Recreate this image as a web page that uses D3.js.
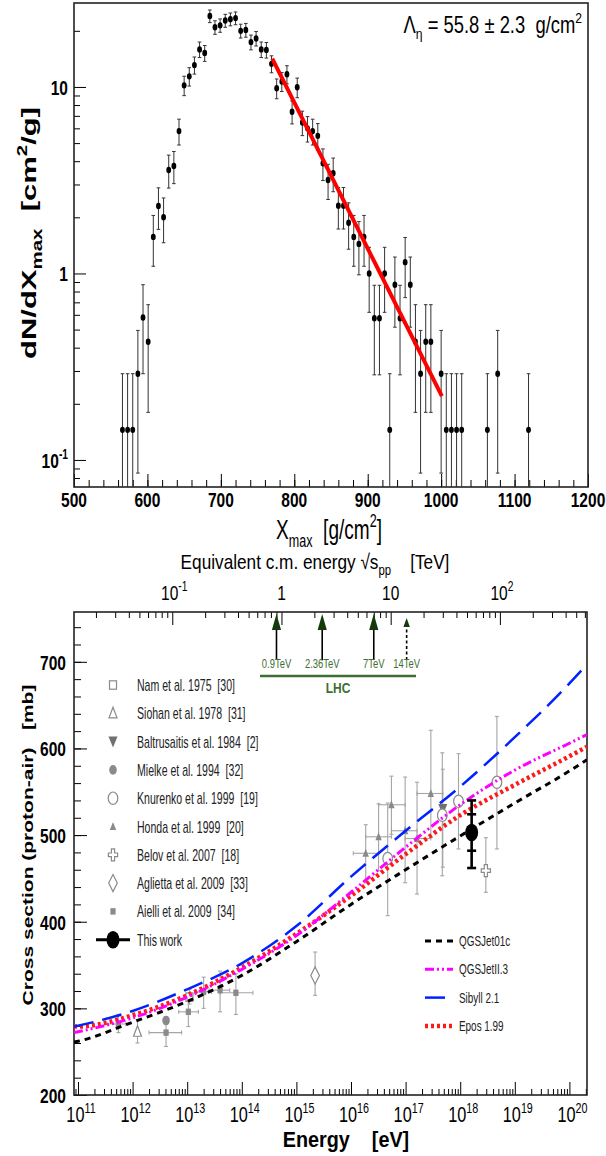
<!DOCTYPE html>
<html><head><meta charset="utf-8">
<script src="https://cdn.jsdelivr.net/npm/d3@7"></script>
<style>body{margin:0;background:#fff} svg{display:block} text{font-family:"Liberation Sans",Arial,Helvetica,sans-serif;white-space:pre}</style>
</head><body><svg id="c" width="606" height="1156"></svg>
<script>
// ================= DATA =================
// --- top panel: Xmax distribution
const xmaxBins=[566,573,580,587,594,601,608,615,622,629,636,643,650,657,664,671,678,685,692,699,706,713,720,727,734,741,748,755,762,769,776,783,790,797,804,811,818,825,832,839,846,853,860,867,874,881,888,895,902,909,916,923,930,937,944,951,958,965,972,979,986,1000,1007,1014,1021,1028,1063,1077,1119];
const dNdXmax=[0.145,0.145,0.145,0.29,0.58,0.43,1.57,2.30,2.0,3.59,3.77,5.8,10.2,11.4,13.1,15.9,15.2,24.0,20.9,21.4,22.7,23.1,23.4,20.0,20.2,17.4,18.2,15.9,15.8,13.3,9.84,10.7,11.7,7.37,9.96,6.45,6.0,5.8,5.47,3.90,3.17,3.45,2.31,2.31,1.87,1.57,1.44,1.57,1.0,0.575,0.575,1.0,0.145,0.87,0.575,1.15,0.87,0.43,0.29,0.43,0.43,0.29,0.145,0.145,0.145,0.145,0.145,0.29,0.145];
const dNdXerr=[0.145,0.145,0.145,0.205,0.29,0.25,0.477,0.577,0.539,0.721,0.739,0.917,1.216,1.286,1.378,1.518,1.485,1.865,1.741,1.762,1.814,1.830,1.842,1.703,1.711,1.588,1.624,1.518,1.514,1.389,1.194,1.246,1.302,1.034,1.202,0.967,0.933,0.917,0.891,0.752,0.678,0.707,0.579,0.579,0.521,0.477,0.457,0.477,0.381,0.289,0.289,0.381,0.145,0.355,0.289,0.408,0.355,0.25,0.205,0.25,0.25,0.205,0.145,0.145,0.145,0.145,0.145,0.205,0.145];
const fitXmax=[770,1001];
const fitDN=[14.2,0.22];
const xmaxTicks=[500,600,700,800,900,1000,1100,1200];
const dnTicks=[0.1,1,10];

// --- bottom panel: p-air cross section
const energyTicks=[1e11,1e12,1e13,1e14,1e15,1e16,1e17,1e18,1e19,1e20];
const energyExp=["11","12","13","14","15","16","17","18","19","20"];
const sigmaTicks=[200,300,400,500,600,700];
const sqrtsTicks=[0.1,1,10,100];
const lhcTeV=[0.9,2.36,7,14];
const lhcLabels=["0.9TeV","2.36TeV","7TeV","14TeV"];

const modelE=[8.45e10,1e11,1e12,1e13,1e14,1e15,1e16,1e17,1e18,1e19,1e20,2.1e20];
const qgsjet01c=[261,262,284,308,338,377,420,460,499,537,574,587];
const qgsjetII3=[272,273,289,313,345,384,434,486,535,575,606,616];
const sibyll21=[279,280,297,322,352,395,452,505,556,613,675,697];
const epos199=[279,279,292,315,347,386,430,478,523,558,591,602];

// experiments: E [eV], sigma, lower, upper, (E lo, E hi)
const siohanE=[1.23e12], siohanS=[273], siohanLo=[260], siohanHi=[287];
const mielkeE=[4.1e12], mielkeS=[286], mielkeLo=[282], mielkeHi=[290];
const aielliE=[5.5e11,4.1e12,1.05e13,2.0e13,4.0e13,7.8e13];
const aielliS=[282,272,296,319,321,318];
const aielliLo=[272,256,279,300,296,293];
const aielliHi=[293,284,309,336,343,340];
const aielliElo=[3.5e11,2.0e12,7.0e12,1.4e13,2.5e13,4.0e13];
const aielliEhi=[7.5e11,7.9e12,1.6e13,2.8e13,6.0e13,1.6e14];
const namE=[1.1e13], namS=[313], namLo=[305], namHi=[322];
const agliettaE=[2.2e15], agliettaS=[338], agliettaLo=[315], agliettaHi=[365];
const hondaE=[1.86e16,3.2e16,5.5e16,9.8e16,1.62e17,2.9e17];
const hondaS=[479,498,535,505,496,548];
const hondaLo=[445,459,501,445,432,497];
const hondaHi=[512,536,568,567,561,621];
const hondaElo=[1.1e16,1.86e16,3.2e16,5.5e16,9.8e16,1.62e17];
const hondaEhi=[3.2e16,5.5e16,9.8e16,1.62e17,2.9e17,4.8e17];
const baltE=[4.8e17], baltS=[530], baltLo=[463], baltHi=[576];
const knurE=[4.7e16,4.7e17,9.3e17,4.7e18];
const knurS=[473,523,539,561];
const knurLo=[407,453,484,484];
const knurHi=[537,595,594,637];
const belovE=[2.95e18], belovS=[459], belovLo=[434], belovHi=[497];
const thisE=[1.62e18], thisS=[503], thisStatLo=[482], thisStatHi=[524], thisSysLo=[462], thisSysHi=[540];

const legendLeft=["Nam et al. 1975  [30]","Siohan et al. 1978  [31]","Baltrusaitis et al. 1984  [2]","Mielke et al. 1994  [32]","Knurenko et al. 1999  [19]","Honda et al. 1999  [20]","Belov et al. 2007  [18]","Aglietta et al. 2009  [33]","Aielli et al. 2009  [34]","This work"];
const legendRight=["QGSJet01c","QGSJetII.3","Sibyll 2.1","Epos 1.99"];

// ================= DRAWING =================
const svg=d3.select("#c");
const SX=0.74;
function rich(parent,x,y,parts,o={}){
  const size=o.size||14, sx=o.sx||SX;
  const tr=`translate(${x},${y})`+(o.rot?` rotate(${o.rot}) scale(1,${sx})`:` scale(${sx},1)`);
  const g=parent.append("g").attr("transform",tr);
  const t=g.append("text").attr("xml:space","preserve").attr("font-size",size).attr("font-weight",o.weight||"normal")
    .attr("text-anchor",o.anchor||"middle").attr("fill",o.fill||"#000");
  let cur=0;
  parts.forEach(p=>{
    const [s,k]=Array.isArray(p)?p:[p,"n"];
    const target=k==="sup"?-size*0.42:k==="sub"?size*0.28:0;
    const ts=t.append("tspan").text(s).attr("dy",target-cur);
    if(k!=="n") ts.attr("font-size",size*0.66);
    cur=target;
  });
  return t;
}
function styleAxis(g,w){g.select(".domain").remove();g.selectAll(".tick line").attr("stroke","#000").attr("stroke-width",w||1);g.selectAll(".tick text").remove();}
function logMinor(lo,hi){const r=[];for(let d=Math.floor(Math.log10(lo));d<=Math.ceil(Math.log10(hi));d++)for(let k=2;k<=9;k++){const v=k*Math.pow(10,d);if(v>=lo&&v<=hi)r.push(v);}return r;}

// ---------- TOP PANEL ----------
const T={l:74,r:588,t:3,b:487};
const xT=d3.scaleLinear().domain([500,1200]).range([T.l,T.r]);
const yT=d3.scaleLog().domain([0.0716,28.2]).range([T.b,T.t]);
const topG=svg.append("g");
topG.append("g").attr("transform",`translate(0,${T.b})`).call(d3.axisBottom(xT).tickValues(xmaxTicks).tickSize(-13).tickSizeOuter(0)).call(styleAxis);
topG.append("g").attr("transform",`translate(0,${T.b})`).call(d3.axisBottom(xT).tickValues(d3.range(500,1201,20)).tickSize(-7).tickSizeOuter(0)).call(styleAxis);
topG.append("g").attr("transform",`translate(${T.l},0)`).call(d3.axisLeft(yT).tickValues(dnTicks).tickSize(-12).tickSizeOuter(0)).call(styleAxis);
topG.append("g").attr("transform",`translate(${T.l},0)`).call(d3.axisLeft(yT).tickValues(logMinor(0.0716,28.2)).tickSize(-6).tickSizeOuter(0)).call(styleAxis);
topG.append("rect").attr("x",T.l).attr("y",T.t).attr("width",T.r-T.l).attr("height",T.b-T.t).attr("fill","none").attr("stroke","#222").attr("stroke-width",1.6);

xmaxTicks.forEach(v=>rich(topG,xT(v),507,[String(v)],{size:21,weight:"bold"}));
rich(topG,T.l-6,yT(10)+8,["10"],{size:21,weight:"bold",anchor:"end"});
rich(topG,T.l-6,yT(1)+8,["1"],{size:21,weight:"bold",anchor:"end"});
rich(topG,T.l-6,yT(0.1)+8,["10",["-1","sup"]],{size:21,weight:"bold",anchor:"end"});
rich(topG,329,539,["X",["max","sub"],"  [g/cm",["2","sup"],"]"],{size:28,sx:0.68});
rich(topG,36,233,["dN/dX",["max","sub"],"  [cm",["2","sup"],"/g]"],{size:31,weight:"bold",rot:-90,sx:0.68});
rich(topG,582,33,["Λ",["η","sub"]," = 55.8 ± 2.3  g/cm",["2","sup"]],{size:23,anchor:"end",sx:0.8});

// error bars + points
const eb=topG.append("g").attr("stroke","#333").attr("stroke-width",1);
xmaxBins.forEach((x,i)=>{
  const v=dNdXmax[i],e=dNdXerr[i];
  const lo=v-e>yT.domain()[0]?v-e:null, hi=v+e;
  const px=xT(x);
  eb.append("line").attr("x1",px).attr("x2",px).attr("y1",lo?yT(lo):T.b).attr("y2",yT(hi));
  eb.append("line").attr("x1",px-1.8).attr("x2",px+1.8).attr("y1",yT(hi)).attr("y2",yT(hi));
  if(lo) eb.append("line").attr("x1",px-1.8).attr("x2",px+1.8).attr("y1",yT(lo)).attr("y2",yT(lo));
});
topG.append("g").selectAll("ellipse").data(xmaxBins).join("ellipse")
  .attr("cx",d=>xT(d)).attr("cy",(d,i)=>yT(dNdXmax[i])).attr("rx",2.4).attr("ry",3.2).attr("fill","#000");
topG.append("path").datum(fitXmax.map((x,i)=>[x,fitDN[i]]))
  .attr("d",d3.line().x(d=>xT(d[0])).y(d=>yT(d[1]))).attr("stroke","#ff0000").attr("stroke-width",4).attr("fill","none");

// ---------- BOTTOM PANEL ----------
const B={l:74,r:587,t:612,b:1095};
const xB=d3.scaleLog().domain([8.45e10,2.1e20]).range([B.l,B.r]);
const yB=d3.scaleLinear().domain([200,757.5]).range([B.b,B.t]);
const sqrtS=E=>Math.sqrt(2*0.938e9*E)/1e12;
const xS=d3.scaleLog().domain(xB.domain().map(sqrtS)).range([B.l,B.r]);
const bot=svg.append("g");
const clipId="clipB";
svg.append("defs").append("clipPath").attr("id",clipId).append("rect").attr("x",B.l).attr("y",B.t).attr("width",B.r-B.l).attr("height",B.b-B.t);

bot.append("g").attr("transform",`translate(0,${B.b})`).call(d3.axisBottom(xB).tickValues(energyTicks).tickSize(-13).tickSizeOuter(0)).call(styleAxis);
bot.append("g").attr("transform",`translate(0,${B.b})`).call(d3.axisBottom(xB).tickValues(logMinor(8.45e10,2.1e20)).tickSize(-6).tickSizeOuter(0)).call(styleAxis);
bot.append("g").attr("transform",`translate(${B.l},0)`).call(d3.axisLeft(yB).tickValues(sigmaTicks).tickSize(-13).tickSizeOuter(0)).call(styleAxis);
bot.append("g").attr("transform",`translate(${B.l},0)`).call(d3.axisLeft(yB).tickValues(d3.range(200,757,20)).tickSize(-7).tickSizeOuter(0)).call(styleAxis);
bot.append("g").attr("transform",`translate(0,${B.t})`).call(d3.axisTop(xS).tickValues(sqrtsTicks).tickSize(-13).tickSizeOuter(0)).call(styleAxis);
bot.append("g").attr("transform",`translate(0,${B.t})`).call(d3.axisTop(xS).tickValues(logMinor(xS.domain()[0],xS.domain()[1])).tickSize(-6).tickSizeOuter(0)).call(styleAxis);
bot.append("rect").attr("x",B.l).attr("y",B.t).attr("width",B.r-B.l).attr("height",B.b-B.t).attr("fill","none").attr("stroke","#222").attr("stroke-width",1.6);

energyTicks.forEach((v,i)=>rich(bot,xB(v)+3,1122,["10",[energyExp[i],"sup"]],{size:22}));
sigmaTicks.forEach(v=>rich(bot,B.l-8,yB(v)+8,[String(v)],{size:21,weight:"bold",anchor:"end"}));
rich(bot,xS(0.1)+2,600,["10",["-1","sup"]],{size:21});
rich(bot,xS(1),600,["1"],{size:21});
rich(bot,xS(10),600,["10"],{size:21});
rich(bot,xS(100)+2,600,["10",["2","sup"]],{size:21});
rich(bot,315,569,["Equivalent c.m. energy ","√","s",["pp","sub"],"    [TeV]"],{size:21,sx:0.82});
rich(bot,346,1147,["Energy    [eV]"],{size:22,weight:"bold",sx:0.9});
rich(bot,33,845,["Cross section (proton-air)   [mb]"],{size:21,weight:"bold",rot:-90});

// LHC arrows
const GREEN="#3f6e33";
lhcTeV.forEach((s,i)=>{
  const px=xS(s), dashed=i===3;
  bot.append("line").attr("x1",px).attr("x2",px).attr("y1",660).attr("y2",dashed?624:626)
    .attr("stroke","#000").attr("stroke-width",1.6).attr("stroke-dasharray",dashed?"3,2.5":null);
  const h=dashed?9:16, w=dashed?3.2:4.6, tipY=B.t+(dashed?6:2);
  bot.append("path").attr("d",`M${px},${tipY}L${px-w},${tipY+h}L${px+w},${tipY+h}Z`).attr("fill","#143a0c");
  rich(bot,px,668,[lhcLabels[i]],{size:13.5,fill:GREEN,sx:0.7});
});
bot.append("line").attr("x1",260).attr("x2",416).attr("y1",676).attr("y2",676).attr("stroke",GREEN).attr("stroke-width",2.5);
rich(bot,338,693,["LHC"],{size:15,weight:"bold",fill:GREEN,sx:0.8});

// model curves
const plot=bot.append("g").attr("clip-path",`url(#${clipId})`);
const lineGen=d3.line().x(d=>xB(d[0])).y(d=>yB(d[1])).curve(d3.curveMonotoneX);
const models=[
  {v:qgsjet01c,c:"#000",w:3,dash:"6,5"},
  {v:epos199,c:"#ff1a1a",w:4.5,dash:"3,3"},
  {v:qgsjetII3,c:"#ff00ff",w:3,dash:"9,3,2,3,2,3"},
  {v:sibyll21,c:"#0022ff",w:2.5,dash:"20,9"}
];

// data points
const GRAY="#8a8a8a";
const pts=plot.append("g");
function errs(E,S,Lo,Hi,Elo,Ehi){
  const g=pts.append("g").attr("stroke","#a5a5a5").attr("stroke-width",1.1);
  E.forEach((e,i)=>{
    const px=xB(e);
    g.append("line").attr("x1",px).attr("x2",px).attr("y1",yB(Lo[i])).attr("y2",yB(Hi[i]));
    [Lo[i],Hi[i]].forEach(v=>g.append("line").attr("x1",px-2).attr("x2",px+2).attr("y1",yB(v)).attr("y2",yB(v)));
    if(Elo){const py=yB(S[i]);
      g.append("line").attr("x1",xB(Elo[i])).attr("x2",xB(Ehi[i])).attr("y1",py).attr("y2",py);
      [Elo[i],Ehi[i]].forEach(v=>g.append("line").attr("x1",xB(v)).attr("x2",xB(v)).attr("y1",py-2).attr("y2",py+2));}
  });
}
const SYM={
  square:(g)=>g.append("rect").attr("x",-3.5).attr("y",-4.2).attr("width",7).attr("height",8.4),
  tri:(g)=>g.append("path").attr("d","M0,-6L4,4.5L-4,4.5Z"),
  itri:(g)=>g.append("path").attr("d","M0,6L4.5,-5L-4.5,-5Z"),
  circ:(g)=>g.append("ellipse").attr("rx",3.8).attr("ry",4.8),
  ocirc:(g)=>g.append("ellipse").attr("rx",4.8).attr("ry",6.2),
  stri:(g)=>g.append("path").attr("d","M0,-4.5L3.2,3.5L-3.2,3.5Z"),
  cross:(g)=>g.append("path").attr("d","M-1.6,-6H1.6V-1.8H4.6V1.8H1.6V6H-1.6V1.8H-4.6V-1.8H-1.6Z"),
  diamond:(g)=>g.append("path").attr("d","M0,-8.5L4.3,0L0,8.5L-4.3,0Z"),
  ssq:(g)=>g.append("rect").attr("x",-2.6).attr("y",-3.2).attr("width",5.2).attr("height",6.4)
};
function mark(parent,x,y,sym,open){
  const g=parent.append("g").attr("transform",`translate(${x},${y})`);
  const el=SYM[sym](g);
  if(open) el.attr("fill","#fff").attr("stroke",GRAY).attr("stroke-width",1.2);
  else el.attr("fill",sym==="itri"?"#707070":GRAY);
}
function series(E,S,sym,open){E.forEach((e,i)=>mark(pts,xB(e),yB(S[i]),sym,open));}

errs(aielliE,aielliS,aielliLo,aielliHi,aielliElo,aielliEhi);
errs(siohanE,siohanS,siohanLo,siohanHi);
errs(mielkeE,mielkeS,mielkeLo,mielkeHi);
errs(namE,namS,namLo,namHi);
errs(agliettaE,agliettaS,agliettaLo,agliettaHi);
errs(hondaE,hondaS,hondaLo,hondaHi,hondaElo,hondaEhi);
errs(baltE,baltS,baltLo,baltHi);
errs(knurE,knurS,knurLo,knurHi);
errs(belovE,belovS,belovLo,belovHi);

series(aielliE,aielliS,"ssq",false);
series(siohanE,siohanS,"tri",true);
series(mielkeE,mielkeS,"circ",false);
series(namE,namS,"square",true);
series(agliettaE,agliettaS,"diamond",true);
series(hondaE,hondaS,"stri",false);
series(baltE,baltS,"itri",false);
series(knurE,knurS,"ocirc",true);
series(belovE,belovS,"cross",true);

models.forEach(m=>{
  plot.append("path").datum(modelE.map((e,i)=>[e,m.v[i]])).attr("d",lineGen)
    .attr("fill","none").attr("stroke",m.c).attr("stroke-width",m.w).attr("stroke-dasharray",m.dash);
});

// This work
const tw=plot.append("g").attr("stroke","#000").attr("stroke-width",2.6);
thisE.forEach((e,i)=>{
  const px=xB(e);
  tw.append("line").attr("x1",px).attr("x2",px).attr("y1",yB(thisSysLo[i])).attr("y2",yB(thisSysHi[i]));
  [thisSysLo[i],thisSysHi[i],thisStatLo[i],thisStatHi[i]].forEach(v=>tw.append("line").attr("x1",px-4.5).attr("x2",px+4.5).attr("y1",yB(v)).attr("y2",yB(v)));
  plot.append("ellipse").attr("cx",px).attr("cy",yB(thisS[i])).attr("rx",6.5).attr("ry",8.8).attr("fill","#000");
});

// legends
const symOrder=[["square",true],["tri",true],["itri",false],["circ",false],["ocirc",true],["stri",false],["cross",true],["diamond",true],["ssq",false]];
legendLeft.forEach((t,i)=>{
  const y=685+i*28.3;
  if(i<9) mark(bot,113,y,symOrder[i][0],symOrder[i][1]);
  else{
    bot.append("line").attr("x1",96).attr("x2",130).attr("y1",y).attr("y2",y).attr("stroke","#000").attr("stroke-width",3);
    bot.append("ellipse").attr("cx",113).attr("cy",y).attr("rx",6.5).attr("ry",8.8).attr("fill","#000");
  }
  rich(bot,137,y+6,[t],{size:16,anchor:"start",fill:"#222",sx:0.66});
});
const legOrder=[models[0],models[2],models[3],models[1]];
legendRight.forEach((t,i)=>{
  const y=941+i*28.3, m=legOrder[i];
  bot.append("line").attr("x1",425).attr("x2",453).attr("y1",y).attr("y2",y).attr("stroke",m.c).attr("stroke-width",m.w).attr("stroke-dasharray",m.dash);
  rich(bot,459,y+5,[t],{size:15.5,anchor:"start",fill:"#222",sx:0.64});
});
</script></body></html>
